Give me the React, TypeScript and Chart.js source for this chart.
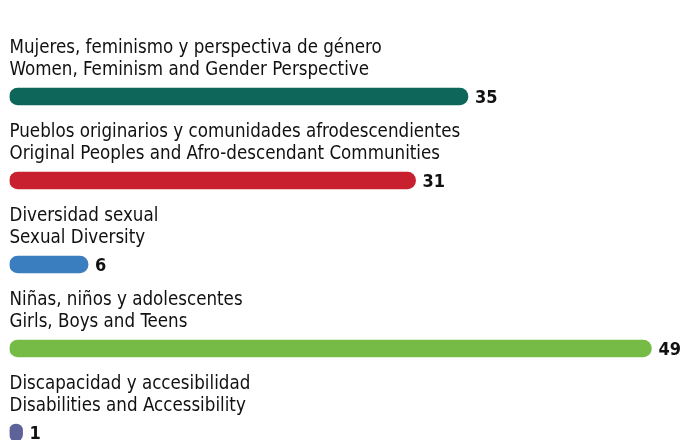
import React, { useEffect, useRef } from "react";
import { Chart, registerables } from "chart.js";
Chart.register(...registerables);

const labelsEs = [
  "Mujeres, feminismo y perspectiva de género",
  "Pueblos originarios y comunidades afrodescendientes",
  "Diversidad sexual",
  "Niñas, niños y adolescentes",
  "Discapacidad y accesibilidad",
];
const labelsEn = [
  "Women, Feminism and Gender Perspective",
  "Original Peoples and Afro-descendant Communities",
  "Sexual Diversity",
  "Girls, Boys and Teens",
  "Disabilities and Accessibility",
];
const values = [35, 31, 6, 49, 1];
const colors = ["#0e6559", "#c9202f", "#3a7ebf", "#77bb47", "#5d6399"];

const FONT = "'DejaVu Sans Condensed', sans-serif";

export default function App() {
  const ref = useRef<HTMLCanvasElement>(null);
  useEffect(() => {
    const labelPlugin = {
      id: "labels",
      afterDatasetsDraw(chart: any) {
        const ctx = chart.ctx;
        const meta = chart.getDatasetMeta(0);
        ctx.save();
        ctx.textBaseline = "alphabetic";
        ctx.textAlign = "left";
        meta.data.forEach((bar: any, i: number) => {
          ctx.fillStyle = "#111";
          ctx.font = `18.6px ${FONT}`;
          ctx.fillText(labelsEs[i], 9.5, bar.y - 43.5);
          ctx.fillText(labelsEn[i], 9.5, bar.y - 21.5);
          ctx.font = `bold 18px ${FONT}`;
          ctx.fillText(String(values[i]), bar.x + 7, bar.y + 6.5);
        });
        ctx.restore();
      },
    };
    const chart = new Chart(ref.current!, {
      type: "bar",
      data: {
        labels: labelsEn,
        datasets: [
          {
            data: values,
            backgroundColor: colors,
            barThickness: 17,
            borderRadius: 9,
            borderSkipped: false,
          },
        ],
      },
      options: {
        indexAxis: "y",
        animation: false,
        responsive: false,
        layout: { padding: { left: 9.5, right: 19.5, top: 54.5, bottom: 5.5 } },
        plugins: { legend: { display: false }, tooltip: { enabled: false } },
        scales: {
          x: { display: false, min: 0, max: 50 },
          y: { display: false },
        },
      },
      plugins: [labelPlugin],
    });
    return () => chart.destroy();
  }, []);
  return (
    <div style={{ position: "fixed", left: 0, top: 0, width: 684, height: 480, background: "#fff" }}>
      <canvas ref={ref} width={684} height={480} style={{ width: 684, height: 480 }} />
    </div>
  );
}
